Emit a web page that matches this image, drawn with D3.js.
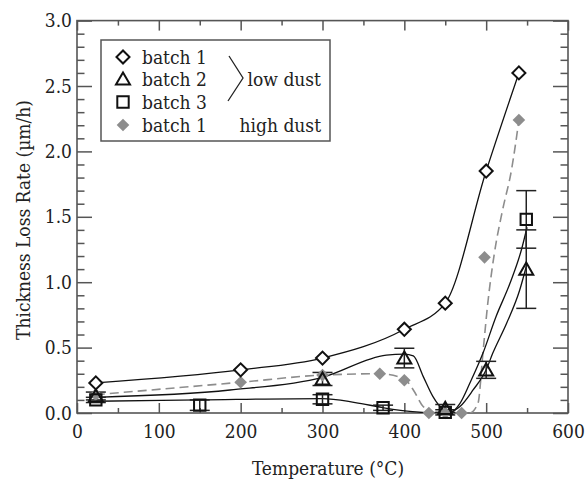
<!DOCTYPE html>
<html>
<head>
<meta charset="utf-8">
<script src="https://cdn.jsdelivr.net/npm/d3@7"></script>
<style>
  body { margin: 0; background: #fff; }
  svg text { font-stretch: semi-condensed; }
</style>
</head>
<body>
<svg id="chart" width="587" height="484"></svg>
<script>
// measured points
const tempB1 = [23, 200, 300, 400, 450, 500, 540];
const rateB1 = [0.23, 0.33, 0.42, 0.64, 0.84, 1.85, 2.6];

const tempB2 = [23, 300, 400, 450, 500, 549];
const rateB2 = [0.13, 0.26, 0.42, 0.035, 0.33, 1.1];
const errB2 = [0.03, 0.05, 0.075, 0.03, 0.065, 0.3];

const tempB3 = [23, 150, 300, 374, 450, 549];
const rateB3 = [0.1, 0.06, 0.105, 0.04, 0.005, 1.48];
const errB3 = [0.02, 0.04, 0.035, 0.02, 0.02, 0.22];

const tempHD = [23, 200, 300, 370, 400, 430, 450, 470, 498, 540];
const rateHD = [0.14, 0.235, 0.29, 0.3, 0.25, 0, 0, 0, 1.19, 2.24];

// fitted trend lines
const fitB2T = [23, 187, 300, 378, 400, 411, 423, 435, 447, 456, 468, 484, 500, 508, 525, 541, 549];
const fitB2R = [0.12, 0.176, 0.273, 0.443, 0.45, 0.436, 0.28, 0.125, 0.03, 0.01, 0.05, 0.176, 0.33, 0.456, 0.686, 0.94, 1.12];

const fitB3T = [23, 150, 300, 340, 375, 410, 440, 455, 468, 480, 496, 512, 529, 543, 550];
const fitB3R = [0.09, 0.1, 0.11, 0.08, 0.04, 0.01, 0.0, 0.0, 0.074, 0.227, 0.456, 0.736, 0.99, 1.246, 1.42];

const fitHDT = [23, 200, 300, 370, 400, 411, 423, 440, 460, 480, 490, 496, 502, 510, 520, 531, 540];
const fitHDR = [0.14, 0.235, 0.29, 0.3, 0.26, 0.176, 0.05, 0.0, 0.0, 0.0, 0.074, 0.456, 0.84, 1.22, 1.55, 1.86, 2.24];

const xTicks = [0, 100, 200, 300, 400, 500, 600];
const yTicks = [0, 0.5, 1, 1.5, 2, 2.5, 3];

const legendLabels = ['batch 1', 'batch 2', 'batch 3', 'batch 1'];

const svg = d3.select('#chart');
const margin = { top: 20.6, left: 77, right: 19, bottom: 71 };
const width = +svg.attr('width');
const height = +svg.attr('height');

const x = d3.scaleLinear().domain([0, 600]).range([margin.left, width - margin.right]);
const y = d3.scaleLinear().domain([0, 3]).range([height - margin.bottom, margin.top]);

const frameColor = '#555';
const grayColor = '#8d8d8d';
const fontSize = 19;
const serif = "'DejaVu Serif Condensed', 'DejaVu Serif', serif";

// ticks on all four sides, pointing inward
const xMinor = d3.range(0, 601, 50).filter(v => v % 100 !== 0);
const yMinor = d3.range(0, 31, 1).map(v => v / 10).filter(v => Math.round(v * 10) % 5 !== 0);

function styleAxis(g) {
    g.attr('font-family', serif).attr('font-size', fontSize);
    g.select('.domain').remove();
    g.selectAll('line').attr('stroke', frameColor).attr('stroke-width', 1.5);
    g.selectAll('text').attr('fill', '#222');
}

svg.append('g').attr('transform', `translate(0,${y(0)})`)
    .call(d3.axisBottom(x).tickValues(xTicks).tickSize(-10).tickPadding(12).tickFormat(d3.format('d')))
    .call(styleAxis);
svg.append('g').attr('transform', `translate(0,${y(0)})`)
    .call(d3.axisBottom(x).tickValues(xMinor).tickSize(-5).tickFormat(''))
    .call(styleAxis);
svg.append('g').attr('transform', `translate(0,${y(3)})`)
    .call(d3.axisTop(x).tickValues(xTicks).tickSize(-10).tickFormat(''))
    .call(styleAxis);
svg.append('g').attr('transform', `translate(0,${y(3)})`)
    .call(d3.axisTop(x).tickValues(xMinor).tickSize(-5).tickFormat(''))
    .call(styleAxis);

svg.append('g').attr('transform', `translate(${x(0)},0)`)
    .call(d3.axisLeft(y).tickValues(yTicks).tickSize(-15).tickPadding(5).tickFormat(d3.format('.1f')))
    .call(styleAxis);
svg.append('g').attr('transform', `translate(${x(0)},0)`)
    .call(d3.axisLeft(y).tickValues(yMinor).tickSize(-7.5).tickFormat(''))
    .call(styleAxis);
svg.append('g').attr('transform', `translate(${x(600)},0)`)
    .call(d3.axisRight(y).tickValues(yTicks).tickSize(-15).tickFormat(''))
    .call(styleAxis);
svg.append('g').attr('transform', `translate(${x(600)},0)`)
    .call(d3.axisRight(y).tickValues(yMinor).tickSize(-7.5).tickFormat(''))
    .call(styleAxis);

svg.append('rect')
    .attr('x', x(0)).attr('y', y(3))
    .attr('width', x(600) - x(0)).attr('height', y(0) - y(3))
    .attr('fill', 'none').attr('stroke', frameColor).attr('stroke-width', 1.6);

// axis titles
svg.append('text')
    .attr('x', 328).attr('y', 475)
    .attr('text-anchor', 'middle')
    .attr('font-family', serif).attr('font-size', fontSize)
    .attr('fill', '#222')
    .text('Temperature (°C)');

svg.append('text')
    .attr('transform', 'translate(30,220) rotate(-90)')
    .attr('text-anchor', 'middle')
    .attr('font-family', serif).attr('font-size', fontSize)
    .attr('fill', '#222')
    .text('Thickness Loss Rate (µm/h)');

// lines
svg.append('clipPath').attr('id', 'plot-clip')
    .append('rect')
    .attr('x', x(0)).attr('y', y(3))
    .attr('width', x(600) - x(0)).attr('height', y(0) - y(3));

const plot = svg.append('g').attr('clip-path', 'url(#plot-clip)');

const line = d3.line()
    .x(d => x(d[0]))
    .y(d => y(d[1]))
    .curve(d3.curveMonotoneX);

const zip = (a, b) => a.map((v, i) => [v, b[i]]);

plot.append('path').datum(zip(fitHDT, fitHDR))
    .attr('d', line).attr('fill', 'none')
    .attr('stroke', grayColor).attr('stroke-width', 1.6)
    .attr('stroke-dasharray', '9,5');

plot.append('path').datum(zip(tempB1, rateB1))
    .attr('d', line).attr('fill', 'none')
    .attr('stroke', '#111').attr('stroke-width', 1.3);

plot.append('path').datum(zip(fitB2T, fitB2R))
    .attr('d', line).attr('fill', 'none')
    .attr('stroke', '#111').attr('stroke-width', 1.3);

plot.append('path').datum(zip(fitB3T, fitB3R))
    .attr('d', line).attr('fill', 'none')
    .attr('stroke', '#111').attr('stroke-width', 1.3);

// error bars
function errorBars(temps, rates, errs) {
    const g = svg.append('g').attr('stroke', '#222').attr('stroke-width', 1.5);
    temps.forEach((t, i) => {
        const cx = x(t), lo = y(rates[i] - errs[i]), hi = y(rates[i] + errs[i]);
        g.append('line').attr('x1', cx).attr('x2', cx).attr('y1', lo).attr('y2', hi);
        g.append('line').attr('x1', cx - 10).attr('x2', cx + 10).attr('y1', lo).attr('y2', lo);
        g.append('line').attr('x1', cx - 10).attr('x2', cx + 10).attr('y1', hi).attr('y2', hi);
    });
}
errorBars(tempB3, rateB3, errB3);
errorBars(tempB2, rateB2, errB2);

// markers
const diamondPath = d3.symbol(d3.symbolSquare, 85)();
const grayDiamondPath = d3.symbol(d3.symbolSquare, 80)();
const trianglePath = d3.symbol(d3.symbolTriangle, 85)();
const squarePath = d3.symbol(d3.symbolSquare, 130)();

svg.append('g').selectAll('path')
    .data(zip(tempHD, rateHD)).enter().append('path')
    .attr('d', grayDiamondPath)
    .attr('transform', d => `translate(${x(d[0])},${y(d[1])}) rotate(45)`)
    .attr('fill', grayColor);

svg.append('g').selectAll('path')
    .data(zip(tempB3, rateB3)).enter().append('path')
    .attr('d', squarePath)
    .attr('transform', d => `translate(${x(d[0])},${y(d[1])})`)
    .attr('fill', 'none').attr('stroke', '#111').attr('stroke-width', 2);

svg.append('g').selectAll('path')
    .data(zip(tempB2, rateB2)).enter().append('path')
    .attr('d', trianglePath)
    .attr('transform', d => `translate(${x(d[0])},${y(d[1]) + 1.5})`)
    .attr('fill', 'none').attr('stroke', '#111').attr('stroke-width', 2);

svg.append('g').selectAll('path')
    .data(zip(tempB1, rateB1)).enter().append('path')
    .attr('d', diamondPath)
    .attr('transform', d => `translate(${x(d[0])},${y(d[1])}) rotate(45)`)
    .attr('fill', '#fff').attr('stroke', '#111').attr('stroke-width', 2);

// legend
const legend = svg.append('g');
legend.append('rect')
    .attr('x', 101).attr('y', 40).attr('width', 229).attr('height', 101)
    .attr('fill', '#fff').attr('stroke', frameColor).attr('stroke-width', 1.5);

const legendY = [57, 79, 102, 125];
const legendSymbols = [
    { d: diamondPath, rot: 45, fill: '#fff', stroke: '#111' },
    { d: trianglePath, rot: 0, fill: 'none', stroke: '#111' },
    { d: squarePath, rot: 0, fill: 'none', stroke: '#111' },
    { d: grayDiamondPath, rot: 45, fill: grayColor, stroke: 'none' }
];
legendLabels.forEach((label, i) => {
    const s = legendSymbols[i];
    legend.append('path')
        .attr('d', s.d)
        .attr('transform', `translate(123,${legendY[i] + (i === 1 ? 1.5 : 0)}) rotate(${s.rot})`)
        .attr('fill', s.fill).attr('stroke', s.stroke).attr('stroke-width', 2);
    legend.append('text')
        .attr('x', 142).attr('y', legendY[i]).attr('dy', '0.35em')
        .attr('font-family', serif).attr('font-size', fontSize).attr('fill', '#222')
        .text(label);
});
legend.append('path')
    .attr('d', 'M229,56 L243,78 L228,101')
    .attr('fill', 'none').attr('stroke', '#222').attr('stroke-width', 1.3);
legend.append('text')
    .attr('x', 321).attr('y', 79).attr('dy', '0.35em').attr('text-anchor', 'end')
    .attr('font-family', serif).attr('font-size', fontSize).attr('fill', '#222')
    .text('low dust');
legend.append('text')
    .attr('x', 321).attr('y', 125).attr('dy', '0.35em').attr('text-anchor', 'end')
    .attr('font-family', serif).attr('font-size', fontSize).attr('fill', '#222')
    .text('high dust');
</script>
</body>
</html>
